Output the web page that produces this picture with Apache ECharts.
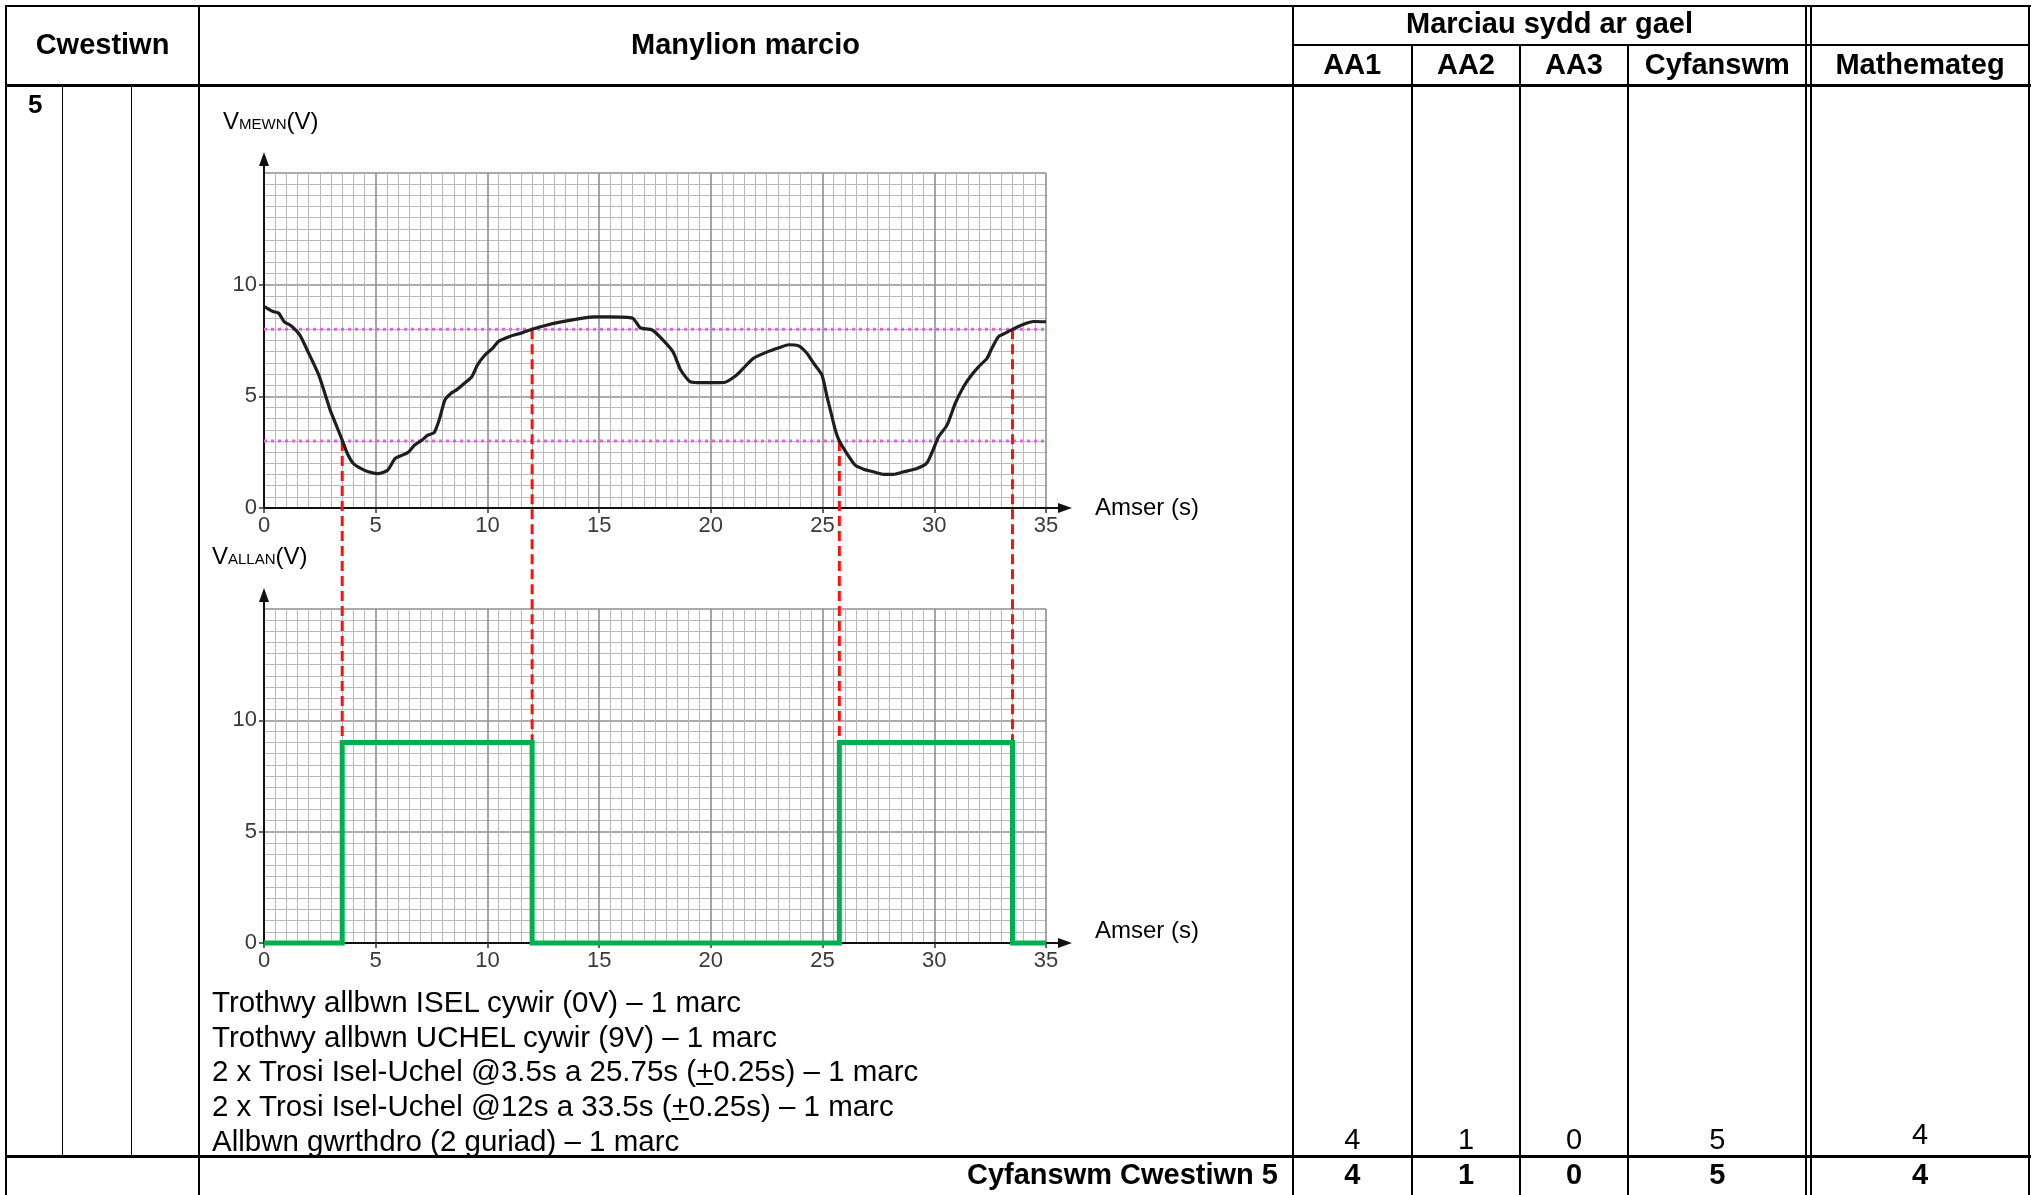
<!DOCTYPE html>
<html>
<head>
<meta charset="utf-8">
<script src="https://cdn.jsdelivr.net/npm/echarts@6/dist/echarts.min.js"></script>
<style>
  html, body { margin: 0; padding: 0; background: #fff; }
  #page { position: relative; width: 2037px; height: 1195px; overflow: hidden; background: #fff;
          font-family: "Liberation Sans", Arial, sans-serif; color: #000; }
  #chart { position: absolute; left: 0; top: 0; width: 2037px; height: 1195px; z-index: 2; }
  .ln { position: absolute; background: #000; z-index: 1; }
  .tx { position: absolute; white-space: nowrap; font-size: 29px; line-height: 34.8px; z-index: 3; }
  .b { font-weight: bold; }
  .c { text-align: center; }
  .ax { position: absolute; white-space: nowrap; font-size: 24px; line-height: 28px; z-index: 3; }
  .sub { font-size: 15px; }
</style>
</head>
<body>
<div id="page">
  <div id="chart"></div>
</div>
<script>
// V_in trace (time in s, volts)
var timeIn = [0, 0.4, 0.65, 0.9, 1.25, 1.6, 2.0, 2.45, 2.7, 2.96, 3.2, 3.5, 3.73, 4.0, 4.33, 4.67,
  5.1, 5.53, 5.87, 6.2, 6.47, 6.73, 7.07, 7.33, 7.62, 7.84, 8.1, 8.36, 8.6, 8.87, 9.3, 9.55,
  9.9, 10.24, 10.5, 11.0, 11.5, 12.0, 12.55, 13.24, 14.26, 14.78, 15.46, 16.5, 16.83, 17.35,
  17.7, 18.3, 18.65, 19.06, 19.4, 20.6, 21.1, 21.46, 21.9, 22.5, 23.1, 23.48, 23.93, 24.3,
  24.6, 24.97, 25.2, 25.42, 25.57, 25.75, 26.09, 26.46, 26.84, 27.28, 27.73, 28.18, 28.63,
  29.22, 29.67, 29.97, 30.19, 30.57, 30.94, 31.31, 31.61, 31.99, 32.36, 32.58, 32.88, 33.18,
  33.5, 34.0, 34.45, 35.0];
var voltIn = [9.03, 8.8, 8.73, 8.35, 8.13, 7.75, 6.93, 5.96, 5.2, 4.39, 3.79, 3.04, 2.44, 1.99, 1.77, 1.62,
  1.54, 1.69, 2.22, 2.37, 2.51, 2.81, 3.04, 3.26, 3.38, 3.94, 4.84, 5.13, 5.28, 5.5, 5.88, 6.4,
  6.86, 7.16, 7.46, 7.68, 7.83, 8.0, 8.16, 8.32, 8.5, 8.56, 8.56, 8.5, 8.08, 7.98,
  7.68, 7.0, 6.18, 5.66, 5.61, 5.62, 5.91, 6.26, 6.7, 6.98, 7.19, 7.31, 7.26, 6.93,
  6.48, 5.96, 4.98, 4.09, 3.49, 3.0, 2.44, 1.92, 1.74, 1.62, 1.51, 1.51, 1.62,
  1.77, 2.02, 2.66, 3.19, 3.71, 4.69, 5.43, 5.88, 6.33, 6.7, 7.16, 7.68, 7.83,
  8.0, 8.23, 8.35, 8.34];

// trigger thresholds (V)
var thresholds = [3, 8];

// switching instants and the input level at each
var switchTimes = [3.5, 12, 25.75, 33.5];
var switchLevels = [3, 8, 3, 8];

// V_out square wave
var outHigh = 9;
var outTimes = [0, 3.5, 3.5, 12, 12, 25.75, 25.75, 33.5, 33.5, 35];
var outVolts = [0, 0, 9, 9, 0, 0, 9, 9, 0, 0];

// table text
var markLines = [
  'Trothwy allbwn ISEL cywir (0V) \u2013 1 marc',
  'Trothwy allbwn UCHEL cywir (9V) \u2013 1 marc',
  '2 x Trosi Isel-Uchel @3.5s a 25.75s (<u>+</u>0.25s) \u2013 1 marc',
  '2 x Trosi Isel-Uchel @12s a 33.5s (<u>+</u>0.25s) \u2013 1 marc',
  'Allbwn gwrthdro (2 guriad) \u2013 1 marc'
];
var markCols = ['AA1', 'AA2', 'AA3', 'Cyfanswm'];
var markValues = [4, 1, 0, 5];
var mathValue = 4;
var totalValues = [4, 1, 0, 5];
var mathTotal = 4;

var page = document.getElementById('page');

function addLine(x, y, w, h) {
  var d = document.createElement('div');
  d.className = 'ln';
  d.style.left = x + 'px'; d.style.top = y + 'px';
  d.style.width = w + 'px'; d.style.height = h + 'px';
  page.appendChild(d);
}
function addText(html, left, top, width, cls, extra) {
  var d = document.createElement('div');
  d.className = 'tx ' + (cls || '');
  d.style.left = left + 'px'; d.style.top = top + 'px';
  if (width) d.style.width = width + 'px';
  if (extra) d.style.cssText += extra;
  d.innerHTML = html;
  page.appendChild(d);
}

// table rules
addLine(5, 4.5, 2026, 2);       // top
addLine(1292, 44, 738, 1.5);    // under "Marciau sydd ar gael"
addLine(5, 84, 2026, 3);        // header bottom
addLine(5, 1155, 2026, 3);      // total row
addLine(5, 4.5, 2, 1191);       // left
addLine(61.5, 85, 1.5, 1071);
addLine(130.5, 85, 1.5, 1071);
addLine(198, 4.5, 2, 1191);
addLine(1291.5, 4.5, 2, 1191);
var colEdges = [1292.5, 1412, 1520, 1628, 1806.5];
[1412, 1520, 1628].forEach(function (x) { addLine(x - 0.75, 44, 1.5, 1151); });
addLine(1805, 4.5, 2, 1191);
addLine(1810, 4.5, 2, 1191);
addLine(2028, 4.5, 2, 1191);

// header text
addText('Cwestiwn', 6, 27, 193, 'b c');
addText('Manylion marcio', 199, 27, 1093, 'b c');
addText('Marciau sydd ar gael', 1293, 6, 513, 'b c');
markCols.forEach(function (t, i) {
  addText(t, colEdges[i], 47, colEdges[i + 1] - colEdges[i], 'b c');
});
addText('Mathemateg', 1812, 47, 216, 'b c');
addText('5', 28, 89, 0, 'b', 'font-size:26px;line-height:30px;');

// mark scheme lines
addText(markLines.join('<br>'), 212, 985, 0, '', 'font-size:29.5px;line-height:34.7px;');

// marks
markValues.forEach(function (v, i) {
  addText(String(v), colEdges[i], 1122, colEdges[i + 1] - colEdges[i], 'c');
});
addText(String(mathValue), 1812, 1117, 216, 'c');
addText('Cyfanswm Cwestiwn 5', 199, 1157, 1079, 'b', 'text-align:right;');
totalValues.forEach(function (v, i) {
  addText(String(v), colEdges[i], 1157, colEdges[i + 1] - colEdges[i], 'b c');
});
addText(String(mathTotal), 1812, 1157, 216, 'b c');

// axis titles
function addAxisTitle(html, left, top) {
  var d = document.createElement('div');
  d.className = 'ax';
  d.style.left = left + 'px'; d.style.top = top + 'px';
  d.innerHTML = html;
  page.appendChild(d);
}
addAxisTitle('V<span class="sub">MEWN</span>(V)', 223, 107);
addAxisTitle('V<span class="sub">ALLAN</span>(V)', 212, 542);
addAxisTitle('Amser (s)', 1095, 493);
addAxisTitle('Amser (s)', 1095, 916);

// charts
var chart = echarts.init(document.getElementById('chart'), null, { renderer: 'canvas' });

var axisFont = { fontFamily: '"Liberation Sans", Arial, sans-serif', fontSize: 22, color: '#3a3a3a' };

function makeAxis(idx, max, isY) {
  return {
    type: 'value',
    gridIndex: idx,
    min: 0,
    max: max,
    interval: 5,
    axisLine: { show: true, onZero: false, lineStyle: { color: '#111', width: 2 } },
    axisTick: { show: true, length: 5, lineStyle: { color: '#333', width: 1.5 } },
    axisLabel: Object.assign({ margin: 7, showMaxLabel: !isY }, axisFont),
    splitLine: { show: true, lineStyle: { color: '#8f8f8f', width: 1.6 } },
    minorTick: { show: false, splitNumber: 10 },
    minorSplitLine: { show: true, lineStyle: { color: '#b9b9b9', width: 1 } }
  };
}

var inData = timeIn.map(function (t, i) { return [t, voltIn[i]]; });
var outData = outTimes.map(function (t, i) { return [t, outVolts[i]]; });

var series = [];
thresholds.forEach(function (th) {
  series.push({
    type: 'line',
    xAxisIndex: 0, yAxisIndex: 0,
    data: [[0, th], [35, th]],
    showSymbol: false,
    silent: true,
    lineStyle: { color: '#dd66dd', width: 3, type: [3, 4] },
    z: 3
  });
});
series.push({
  name: 'Vmewn',
  type: 'line',
  xAxisIndex: 0, yAxisIndex: 0,
  data: inData,
  smooth: 0.2,
  showSymbol: false,
  lineStyle: { color: '#1e1e1e', width: 3.2 },
  z: 5
});
series.push({
  name: 'Vallan',
  type: 'line',
  xAxisIndex: 1, yAxisIndex: 1,
  data: outData,
  showSymbol: false,
  clip: false,
  lineStyle: { color: '#00b050', width: 5, join: 'miter' },
  z: 6
});

var option = {
  animation: false,
  backgroundColor: 'transparent',
  grid: [
    { left: 264, top: 173, width: 782, height: 335 },
    { left: 264, top: 609, width: 782, height: 334 }
  ],
  xAxis: [makeAxis(0, 35, false), makeAxis(1, 35, false)],
  yAxis: [makeAxis(0, 15, true), makeAxis(1, 15, true)],
  series: series
};
chart.setOption(option);

// red dashed drop lines and axis arrows, placed through the axes' scales
function buildGraphics() {
  var els = [];
  switchTimes.forEach(function (t, i) {
    var p1 = chart.convertToPixel({ gridIndex: 0 }, [t, switchLevels[i]]);
    var p2 = chart.convertToPixel({ gridIndex: 1 }, [t, outHigh]);
    els.push({
      type: 'line', z: 4, silent: true,
      shape: { x1: p1[0], y1: p1[1], x2: p2[0], y2: p2[1] },
      style: { stroke: '#ff1010', lineWidth: 3, lineDash: [10, 5] }
    });
  });
  [0, 1].forEach(function (g) {
    var xe = chart.convertToPixel({ gridIndex: g }, [35, 0]);
    var ye = chart.convertToPixel({ gridIndex: g }, [0, 15]);
    els.push({
      type: 'line', z: 4, silent: true,
      shape: { x1: xe[0], y1: xe[1], x2: xe[0] + 14, y2: xe[1] },
      style: { stroke: '#111', lineWidth: 2 }
    });
    els.push({
      type: 'polygon', z: 4, silent: true,
      shape: { points: [[xe[0] + 26, xe[1]], [xe[0] + 12, xe[1] - 5], [xe[0] + 12, xe[1] + 5]] },
      style: { fill: '#111' }
    });
    els.push({
      type: 'line', z: 4, silent: true,
      shape: { x1: ye[0], y1: ye[1], x2: ye[0], y2: ye[1] - 8 },
      style: { stroke: '#111', lineWidth: 2 }
    });
    els.push({
      type: 'polygon', z: 4, silent: true,
      shape: { points: [[ye[0], ye[1] - 21], [ye[0] - 5, ye[1] - 7], [ye[0] + 5, ye[1] - 7]] },
      style: { fill: '#111' }
    });
  });
  chart.setOption({ graphic: { elements: els } });
}
buildGraphics();

window.addEventListener('resize', chart.resize);
</script>
</body>
</html>
